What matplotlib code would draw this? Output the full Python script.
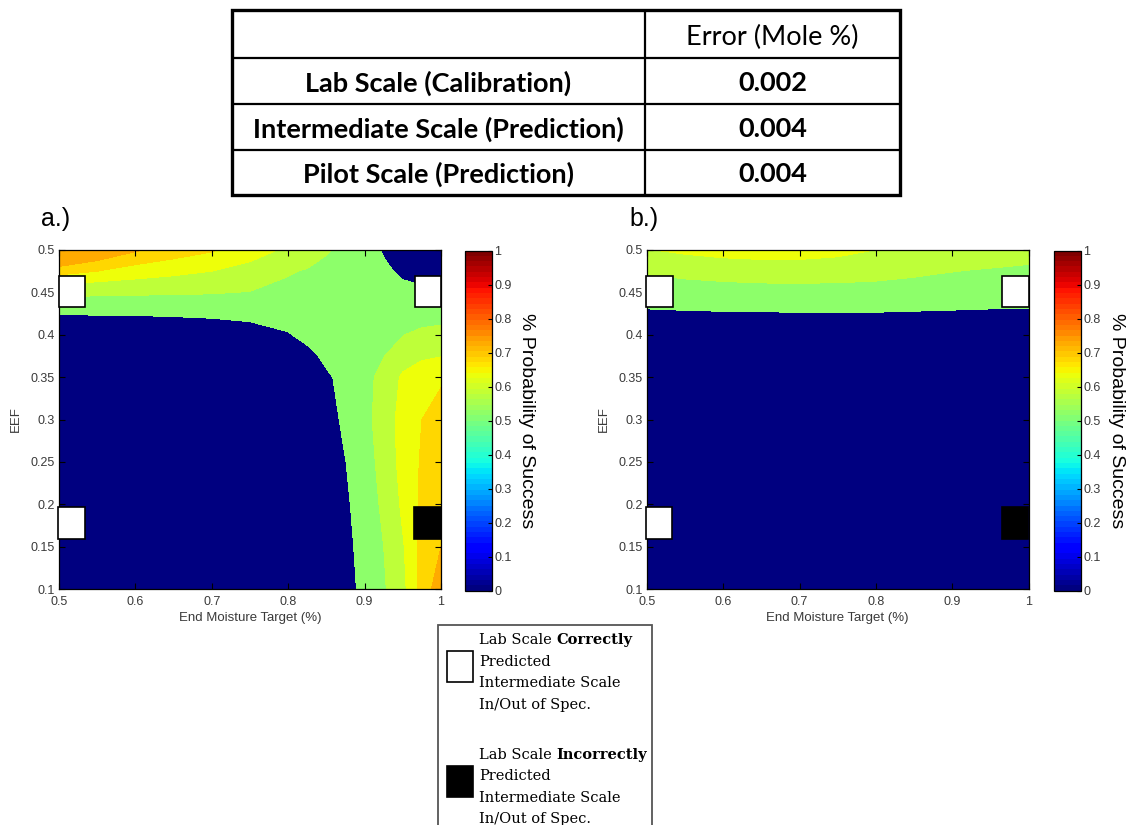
import numpy as np
import matplotlib
matplotlib.use("Agg")
import matplotlib.pyplot as plt
from matplotlib.colors import ListedColormap, Normalize
from matplotlib.patches import Rectangle
import matplotlib.cm as cm

# ---- data -------------------------------------------------------------
table_rows = ["Lab Scale (Calibration)", "Intermediate Scale (Prediction)", "Pilot Scale (Prediction)"]
table_header = "Error (Mole %)"
table_errors = ["0.002", "0.004", "0.004"]

moisture = [0.5, 0.55, 0.6, 0.65, 0.7, 0.75, 0.8, 0.825, 0.85, 0.875, 0.9, 0.925, 0.95, 0.975, 1.0]
eef = [0.1, 0.15, 0.2, 0.25, 0.3, 0.35, 0.375, 0.4, 0.425, 0.45, 0.475, 0.5]

# probability of success (rows = eef, cols = moisture)
prob_a = [
    [0.20, 0.21, 0.22, 0.24, 0.27, 0.31, 0.36, 0.39, 0.43, 0.48, 0.515, 0.553, 0.605, 0.69, 0.73],
    [0.21, 0.22, 0.23, 0.25, 0.28, 0.32, 0.37, 0.40, 0.44, 0.485, 0.52, 0.56, 0.615, 0.685, 0.71],
    [0.22, 0.23, 0.24, 0.26, 0.29, 0.33, 0.38, 0.41, 0.45, 0.49, 0.53, 0.57, 0.63, 0.68, 0.70],
    [0.23, 0.24, 0.25, 0.27, 0.30, 0.34, 0.39, 0.42, 0.46, 0.499, 0.535, 0.58, 0.64, 0.675, 0.695],
    [0.25, 0.26, 0.27, 0.29, 0.32, 0.36, 0.41, 0.44, 0.47, 0.515, 0.54, 0.59, 0.64, 0.67, 0.685],
    [0.30, 0.30, 0.31, 0.33, 0.36, 0.39, 0.43, 0.46, 0.49, 0.52, 0.545, 0.575, 0.63, 0.655, 0.665],
    [0.35, 0.35, 0.36, 0.37, 0.39, 0.42, 0.45, 0.48, 0.515, 0.53, 0.545, 0.558, 0.59, 0.61, 0.618],
    [0.40, 0.40, 0.40, 0.41, 0.43, 0.46, 0.495, 0.52, 0.53, 0.535, 0.54, 0.55, 0.558, 0.575, 0.585],
    [0.505, 0.508, 0.51, 0.515, 0.52, 0.525, 0.53, 0.53, 0.53, 0.53, 0.53, 0.53, 0.53, 0.53, 0.53],
    [0.575, 0.57, 0.568, 0.565, 0.563, 0.558, 0.545, 0.54, 0.53, 0.525, 0.52, 0.515, 0.515, 0.515, 0.52],
    [0.69, 0.67, 0.65, 0.635, 0.62, 0.60, 0.565, 0.555, 0.545, 0.53, 0.515, 0.51, 0.49, 0.47, 0.46],
    [0.78, 0.75, 0.715, 0.695, 0.675, 0.645, 0.61, 0.595, 0.565, 0.545, 0.525, 0.495, 0.44, 0.38, 0.35],
]

# probability of success
prob_b = [
    [0.10, 0.10, 0.10, 0.10, 0.10, 0.10, 0.10, 0.10, 0.10, 0.10, 0.10, 0.10, 0.10, 0.10, 0.10],
    [0.15, 0.15, 0.15, 0.15, 0.15, 0.15, 0.15, 0.15, 0.15, 0.15, 0.15, 0.15, 0.15, 0.15, 0.15],
    [0.20, 0.20, 0.20, 0.20, 0.20, 0.20, 0.20, 0.20, 0.20, 0.20, 0.20, 0.20, 0.20, 0.20, 0.20],
    [0.25, 0.25, 0.25, 0.25, 0.25, 0.25, 0.25, 0.25, 0.25, 0.25, 0.25, 0.25, 0.25, 0.25, 0.25],
    [0.30, 0.30, 0.30, 0.30, 0.30, 0.30, 0.30, 0.30, 0.30, 0.30, 0.30, 0.30, 0.30, 0.30, 0.30],
    [0.36, 0.36, 0.36, 0.36, 0.36, 0.36, 0.36, 0.36, 0.36, 0.36, 0.36, 0.36, 0.36, 0.36, 0.36],
    [0.40, 0.40, 0.40, 0.40, 0.40, 0.40, 0.40, 0.40, 0.40, 0.40, 0.40, 0.40, 0.40, 0.40, 0.40],
    [0.44, 0.44, 0.44, 0.44, 0.44, 0.44, 0.44, 0.44, 0.44, 0.44, 0.44, 0.44, 0.44, 0.44, 0.44],
    [0.49, 0.493, 0.495, 0.496, 0.497, 0.497, 0.497, 0.496, 0.495, 0.494, 0.493, 0.492, 0.491, 0.49, 0.49],
    [0.535, 0.539, 0.542, 0.544, 0.545, 0.545, 0.544, 0.542, 0.54, 0.538, 0.536, 0.534, 0.532, 0.531, 0.53],
    [0.565, 0.572, 0.577, 0.58, 0.58, 0.578, 0.574, 0.571, 0.568, 0.564, 0.561, 0.558, 0.556, 0.554, 0.553],
    [0.617, 0.632, 0.645, 0.652, 0.652, 0.64, 0.619, 0.612, 0.605, 0.60, 0.594, 0.589, 0.584, 0.58, 0.575],
]

# contour levels and the jet value used for each filled band
levels = [0.0, 0.5, 0.56, 0.62, 0.67, 0.71, 1.0]
band_jet = [0.0, 0.52, 0.58, 0.64, 0.68, 0.73]

# design points (centres) and whether lab scale predicted them correctly
pt_x = [0.517, 0.983, 0.516, 0.982]
pt_y = [0.451, 0.451, 0.178, 0.178]
pt_correct = [True, True, True, False]

xticks = [0.5, 0.6, 0.7, 0.8, 0.9, 1.0]
xtick_labels = ["0.5", "0.6", "0.7", "0.8", "0.9", "1"]
yticks = [0.1, 0.15, 0.2, 0.25, 0.3, 0.35, 0.4, 0.45, 0.5]
ytick_labels = ["0.1", "0.15", "0.2", "0.25", "0.3", "0.35", "0.4", "0.45", "0.5"]
cbar_ticks = [0, 0.1, 0.2, 0.3, 0.4, 0.5, 0.6, 0.7, 0.8, 0.9, 1.0]
cbar_labels = ["0", "0.1", "0.2", "0.3", "0.4", "0.5", "0.6", "0.7", "0.8", "0.9", "1"]

legend_lines = [("Lab Scale ", "Correctly"), ("Lab Scale ", "Incorrectly")]
legend_rest = ["Predicted", "Intermediate Scale", "In/Out of Spec."]

# ---- figure -----------------------------------------------------------
W, H = 1126, 825
fig = plt.figure(figsize=(W / 100, H / 100), dpi=100)
plt.rcParams["font.family"] = ["Liberation Sans", "DejaVu Sans"]


def fx(px):
    return px / W


def fy(py):
    return 1 - py / H


GRAY = "#3a3a3a"
jet = plt.get_cmap("jet")
jet64 = ListedColormap(jet(np.linspace(0, 1, 64)))
band_colors = [jet(v) for v in band_jet]

# ---- table ------------------------------------------------------------
tax = fig.add_axes([fx(232), fy(195), fx(900 - 232), 185 / H])
tax.set_xlim(0, 668)
tax.set_ylim(185, 0)
tax.axis("off")
tax.add_patch(Rectangle((0, 0), 668, 185, fill=False, lw=2.4, ec="black", clip_on=False))
tax.plot([413, 413], [0, 185], color="black", lw=1.6)
row_edges = [0, 48, 94, 140, 185]
for yy in row_edges[1:-1]:
    tax.plot([0, 668], [yy, yy], color="black", lw=1.6)
tfont = ["Lato", "DejaVu Sans"]
tax.text(540.5, 27, table_header, ha="center", va="center", fontsize=19.5, family=tfont)
for i, (lab, err) in enumerate(zip(table_rows, table_errors)):
    yc = (row_edges[i + 1] + row_edges[i + 2]) / 2 + 2
    tax.text(206.5, yc, lab, ha="center", va="center", fontsize=19.5, fontweight="bold",
             family=tfont)
    tax.text(540.5, yc, err, ha="center", va="center", fontsize=19.5, fontweight="bold",
             family=tfont)

# ---- contour panels ---------------------------------------------------
X, Y = np.meshgrid(moisture, eef)


def draw_panel(left_px, cbar_px, prob, tag, tag_px):
    ax = fig.add_axes([fx(left_px), fy(589), fx(382), 339 / H])
    ax.contourf(X, Y, np.array(prob), levels=levels, colors=band_colors)
    ax.set_xlim(0.5, 1.0)
    ax.set_ylim(0.1, 0.5)
    ax.set_xticks(xticks)
    ax.set_xticklabels(xtick_labels)
    ax.set_yticks(yticks)
    ax.set_yticklabels(ytick_labels)
    ax.tick_params(direction="in", length=4, width=0.8, top=True, right=True,
                   labelsize=9, labelcolor=GRAY)
    ax.tick_params(axis="x", pad=5)
    ax.tick_params(axis="y", pad=3)
    for s in ax.spines.values():
        s.set_linewidth(0.9)
    ax.set_xlabel("End Moisture Target (%)", fontsize=9.5, color=GRAY, labelpad=3)
    ax.set_ylabel("EEF", fontsize=9.5, color=GRAY, labelpad=6)
    for x, y, ok in zip(pt_x, pt_y, pt_correct):
        ax.add_patch(Rectangle((x - 0.0175, y - 0.0185), 0.035, 0.037,
                               facecolor="white" if ok else "black", edgecolor="black",
                               lw=1.2, zorder=3, clip_on=False))

    cax = fig.add_axes([fx(cbar_px), fy(590.5), fx(26.5), 340 / H])
    cb = fig.colorbar(cm.ScalarMappable(norm=Normalize(0, 1), cmap=jet64), cax=cax,
                      ticks=cbar_ticks)
    cb.ax.set_yticklabels(cbar_labels)
    cb.outline.set_linewidth(0.9)
    cax.tick_params(direction="in", length=3, width=0.8, labelsize=9, labelcolor=GRAY, pad=2)
    fig.text(fx(cbar_px + 62), fy(421), "% Probability of Success", rotation=-90,
             ha="center", va="center", fontsize=14)
    fig.text(fx(tag_px), fy(219), tag, ha="center", va="center", fontsize=18)
    return ax


draw_panel(59, 465, prob_a, "a.)", 56)
draw_panel(646.7, 1054, prob_b, "b.)", 644)

# ---- legend box -------------------------------------------------------
fig.patches.append(Rectangle((fx(438), -0.02), fx(652 - 438), fy(625) + 0.02,
                             transform=fig.transFigure, fill=False, ec="#555555", lw=1.3))
sq_tops = [651, 766]
txt_tops = [640, 755]
for k, (reg, bold) in enumerate(legend_lines):
    fig.patches.append(Rectangle((fx(447), fy(sq_tops[k] + 31)), fx(26), 31 / H,
                                 transform=fig.transFigure,
                                 fc="white" if k == 0 else "black", ec="black", lw=1.2))
    t1 = fig.text(fx(479), fy(txt_tops[k]), reg, ha="left", va="center", fontsize=10.5,
                  family="DejaVu Serif")
    plt.annotate(bold, xy=(1, 0.5), xycoords=t1, ha="left", va="center",
                 fontsize=10.5, fontweight="bold", family="DejaVu Serif",
                 annotation_clip=False)
    for j, line in enumerate(legend_rest):
        fig.text(fx(479), fy(txt_tops[k] + 21.5 * (j + 1)), line, ha="left", va="center",
                 fontsize=10.5, family="DejaVu Serif")

fig.savefig("out.png", dpi=100)
